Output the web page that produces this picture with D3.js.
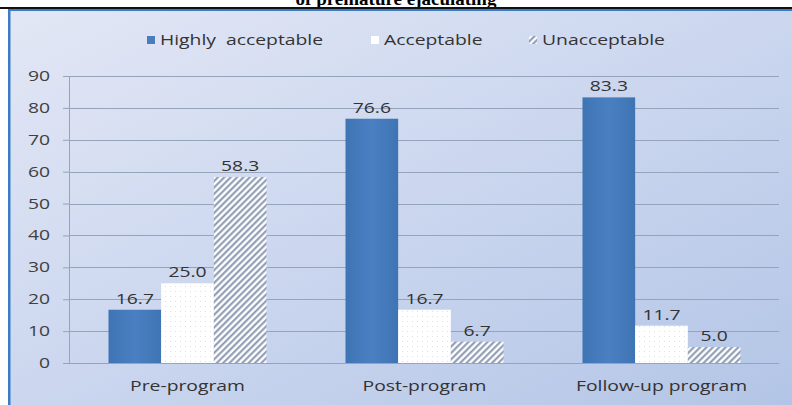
<!DOCTYPE html>
<html>
<head>
<meta charset="utf-8">
<script src="https://cdn.jsdelivr.net/npm/d3@7"></script>
<style>
  html, body { margin: 0; padding: 0; background: #fff; }
  svg { display: block; }
</style>
</head>
<body>
<svg id="chart" width="792" height="405"></svg>
<script>
const categories = ['Pre-program', 'Post-program', 'Follow-up program'];
const seriesNames = ['Highly  acceptable', 'Acceptable', 'Unacceptable'];
const highlyAcceptable = [16.7, 76.6, 83.3];
const acceptable = [25.0, 16.7, 11.7];
const unacceptable = [58.3, 6.7, 5.0];
const yTicks = [0, 10, 20, 30, 40, 50, 60, 70, 80, 90];

const seriesValues = [highlyAcceptable, acceptable, unacceptable];
const rows = categories.map((c, i) => ({
  category: c,
  values: seriesNames.map((s, j) => ({ series: s, index: j, value: seriesValues[j][i] }))
}));

const W = 792, H = 405;
const plot = { left: 69, right: 780, top: 76, bottom: 363 };
const FONT = '"Open Sans", "Liberation Sans", sans-serif';
const STRETCH = 1.38; // the source picture is stretched sideways

const svg = d3.select('#chart');
const defs = svg.append('defs');

// background gradient of the chart frame
const bg = defs.append('linearGradient')
  .attr('id', 'bg').attr('x1', 0).attr('y1', 0).attr('x2', 1).attr('y2', 1);
bg.append('stop').attr('offset', '0%').attr('stop-color', '#e3e7f5');
bg.append('stop').attr('offset', '55%').attr('stop-color', '#c9d5ee');
bg.append('stop').attr('offset', '100%').attr('stop-color', '#b3c5e6');

const blue = defs.append('linearGradient')
  .attr('id', 'blueFill').attr('x1', 0).attr('y1', 0).attr('x2', 1).attr('y2', 0);
blue.append('stop').attr('offset', '0%').attr('stop-color', '#3f74b4');
blue.append('stop').attr('offset', '50%').attr('stop-color', '#4a80c2');
blue.append('stop').attr('offset', '100%').attr('stop-color', '#3f74b4');

const dots = defs.append('pattern')
  .attr('id', 'dots').attr('patternUnits', 'userSpaceOnUse')
  .attr('width', 5).attr('height', 5);
dots.append('rect').attr('width', 5).attr('height', 5).attr('fill', '#ffffff');
dots.append('rect').attr('x', 1).attr('y', 1).attr('width', 1).attr('height', 1).attr('fill', '#dde0e8');

const hatch = defs.append('pattern')
  .attr('id', 'hatch').attr('patternUnits', 'userSpaceOnUse')
  .attr('width', 4.5).attr('height', 4.5)
  .attr('patternTransform', 'rotate(45)');
hatch.append('rect').attr('width', 4.5).attr('height', 4.5).attr('fill', '#ffffff');
hatch.append('line').attr('x1', 1.2).attr('y1', 0).attr('x2', 1.2).attr('y2', 4.5)
  .attr('stroke', '#8896ae').attr('stroke-width', 2);

const fills = ['url(#blueFill)', 'url(#dots)', 'url(#hatch)'];
const legendFills = ['#4a7ebb', '#ffffff', 'url(#hatch)'];

function stretched(sel, x, y) {
  sel.attr('x', 0).attr('y', 0)
    .attr('transform', (d, i) => `translate(${x(d, i)},${y(d, i)}) scale(${STRETCH},1)`);
}

// cut-off caption above the frame
svg.append('text')
  .attr('x', 396).attr('y', 5)
  .attr('text-anchor', 'middle')
  .attr('font-family', '"Liberation Serif", "DejaVu Serif", serif')
  .attr('font-weight', 'bold')
  .attr('font-size', 19)
  .attr('fill', '#000')
  .text('of premature ejaculating');

// frame
svg.append('rect').attr('x', 8).attr('y', 9).attr('width', W - 8).attr('height', H - 9)
  .attr('fill', 'url(#bg)');
svg.append('rect').attr('x', 0).attr('y', 7).attr('width', W).attr('height', 2).attr('fill', '#111');
svg.append('rect').attr('x', 8).attr('y', 9).attr('width', W - 8).attr('height', 2).attr('fill', '#3a7cc6');
svg.append('rect').attr('x', 8).attr('y', 9).attr('width', 2.5).attr('height', H - 9).attr('fill', '#3a7cc6');

const x0 = d3.scaleBand().domain(categories).range([plot.left, plot.right]).padding(0);
const x1 = d3.scaleBand().domain(seriesNames).range([0, x0.bandwidth()])
  .paddingInner(0).paddingOuter(0.75);
const y = d3.scaleLinear().domain([0, 90]).range([plot.bottom, plot.top]);

// gridlines
svg.append('g')
  .selectAll('line')
  .data(yTicks.filter((t) => t > 0))
  .join('line')
  .attr('x1', plot.left).attr('x2', plot.right - 1)
  .attr('y1', (d) => Math.round(y(d)) + 0.5).attr('y2', (d) => Math.round(y(d)) + 0.5)
  .attr('stroke', '#95a3bb').attr('stroke-width', 1.2);

// y axis
const yAxis = svg.append('g')
  .attr('transform', `translate(${plot.left},0)`)
  .call(d3.axisLeft(y).tickValues(yTicks).tickSize(6).tickPadding(12).tickFormat(d3.format('d')));
yAxis.select('.domain').attr('stroke', '#95a3bb');
yAxis.selectAll('.tick line').attr('stroke', '#95a3bb');
yAxis.selectAll('.tick text')
  .attr('font-family', FONT).attr('font-size', 14).attr('fill', '#404040')
  .attr('x', 0)
  .attr('transform', `translate(-19,0) scale(${STRETCH},1)`);

// x axis line
svg.append('line')
  .attr('x1', plot.left - 6).attr('x2', plot.right - 1)
  .attr('y1', plot.bottom + 0.5).attr('y2', plot.bottom + 0.5)
  .attr('stroke', '#95a3bb').attr('stroke-width', 1.2);

// bars
const groups = svg.append('g')
  .selectAll('g')
  .data(rows)
  .join('g')
  .attr('transform', (d) => `translate(${x0(d.category)},0)`);

groups.selectAll('rect')
  .data((d) => d.values)
  .join('rect')
  .attr('x', (d) => x1(d.series))
  .attr('y', (d) => y(d.value))
  .attr('width', x1.bandwidth())
  .attr('height', (d) => y(0) - y(d.value))
  .attr('fill', (d) => fills[d.index]);

groups.selectAll('text')
  .data((d) => d.values)
  .join('text')
  .attr('text-anchor', 'middle')
  .attr('font-family', FONT).attr('font-size', 14).attr('fill', '#333')
  .text((d) => d3.format('.1f')(d.value))
  .call(stretched, (d) => x1(d.series) + x1.bandwidth() / 2, (d) => y(d.value) - 6);

// category labels
svg.append('g')
  .selectAll('text')
  .data(categories)
  .join('text')
  .attr('text-anchor', 'middle')
  .attr('font-family', FONT).attr('font-size', 14).attr('fill', '#333')
  .text((d) => d)
  .call(stretched, (d) => x0(d) + x0.bandwidth() / 2, () => 391);

// legend
const legendX = [147, 371, 529];
const legend = svg.append('g')
  .selectAll('g')
  .data(seriesNames)
  .join('g')
  .attr('transform', (d, i) => `translate(${legendX[i]},40)`);
legend.append('rect')
  .attr('x', 0).attr('y', -4).attr('width', 8).attr('height', 8)
  .attr('fill', (d, i) => legendFills[i]);
legend.append('text')
  .attr('font-family', FONT).attr('font-size', 14).attr('fill', '#333')
  .style('white-space', 'pre')
  .text((d) => d)
  .call(stretched, () => 13, () => 5);
</script>
</body>
</html>
